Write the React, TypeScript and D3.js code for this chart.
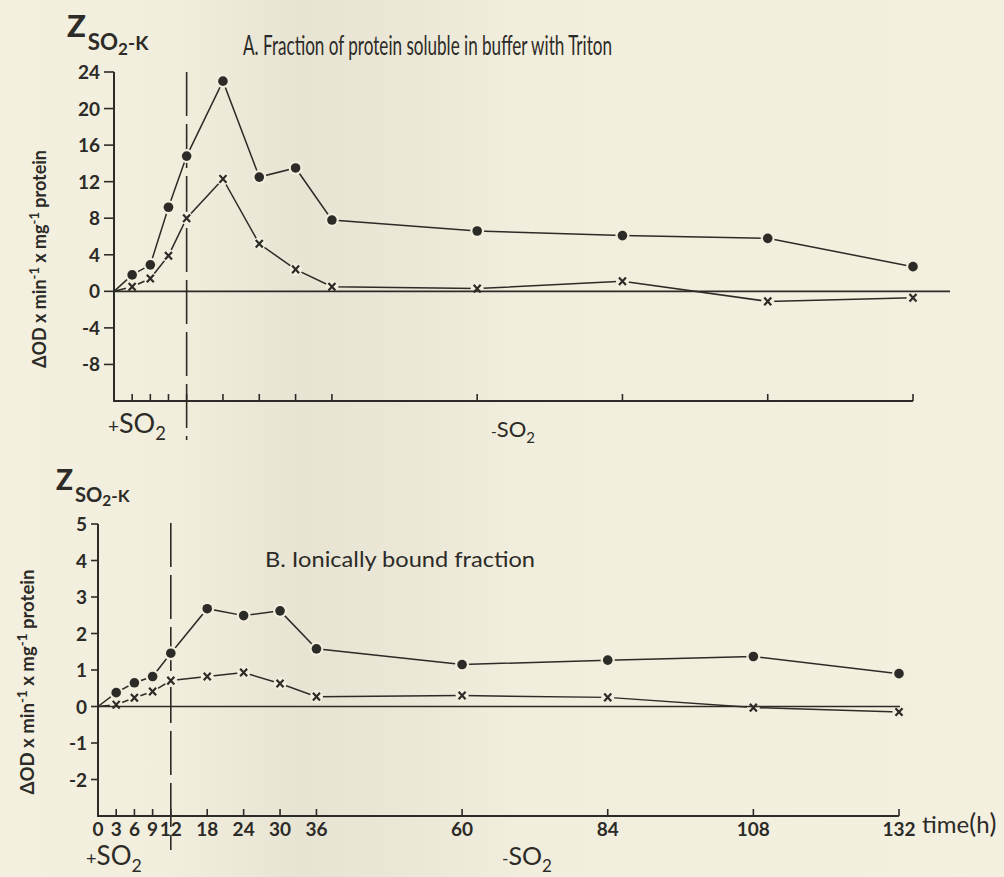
import React from 'react';
import * as d3 from 'd3';

// time points (h) and the values
const hours = [0, 3, 6, 9, 12, 18, 24, 30, 36, 60, 84, 108, 132];
const tickHours = [3, 6, 9, 12, 18, 24, 30, 36, 60, 84, 108, 132];
const xTickLabels = ['0', '3', '6', '9', '12', '18', '24', '30', '36', '60', '84', '108', '132'];

// A. fraction soluble in buffer with Triton
const tritonDots = [0, 1.8, 2.9, 9.2, 14.8, 23.0, 12.5, 13.5, 7.8, 6.6, 6.1, 5.8, 2.7];
const tritonCrosses = [0, 0.5, 1.4, 3.9, 8.0, 12.3, 5.2, 2.4, 0.5, 0.3, 1.1, -1.1, -0.7];

// B. ionically bound fraction
const ionicDots = [0, 0.38, 0.65, 0.82, 1.46, 2.68, 2.49, 2.62, 1.58, 1.15, 1.27, 1.37, 0.9];
const ionicCrosses = [0, 0.05, 0.24, 0.41, 0.71, 0.82, 0.93, 0.63, 0.27, 0.3, 0.25, -0.03, -0.15];

const yTicksA = [24, 20, 16, 12, 8, 4, 0, -4, -8];
const yTicksB = [5, 4, 3, 2, 1, 0, -1, -2];

const INK = '#2c2b27';
const PAPER = '#f2eedd';
const FONT = "Lato, 'DejaVu Sans', sans-serif";

type PanelProps = {
  x: d3.ScaleLinear<number, number>;
  y: d3.ScaleLinear<number, number>;
  yTicks: number[];
  dots: number[];
  crosses: number[];
  tickLen: number;
  zeroEnd: number;
  dashTop: number;
  dashBottom: number;
  showXLabels: boolean;
};

function Panel({ x, y, yTicks, dots, crosses, tickLen, zeroEnd, dashTop, dashBottom, showXLabels }: PanelProps) {
  const [yMin, yMax] = y.domain();
  const line = d3.line<number>().x((_, i) => x(hours[i])).y(d => y(d));
  const marks = hours.map((h, i) => ({ h, i })).filter(d => d.h > 0);
  return (
    <g>
      {/* dashed line at end of SO2 exposure */}
      <line x1={x(12)} x2={x(12)} y1={dashTop} y2={dashBottom} stroke={INK} strokeWidth={1.6} strokeDasharray="44 8" />
      <path d={line(dots) || ''} fill="none" stroke={INK} strokeWidth={1.5} />
      <path d={line(crosses) || ''} fill="none" stroke={INK} strokeWidth={1.5} />
      {/* gaps around markers */}
      {marks.map(d => (
        <g key={'h' + d.i}>
          <circle cx={x(d.h)} cy={y(dots[d.i])} r={7} fill={PAPER} />
          <circle cx={x(d.h)} cy={y(crosses[d.i])} r={6.5} fill={PAPER} />
        </g>
      ))}
      {/* zero line */}
      <line x1={x(0)} x2={zeroEnd} y1={y(0)} y2={y(0)} stroke={INK} strokeWidth={1.6} />
      {marks.map(d => (
        <g key={'m' + d.i}>
          <circle cx={x(d.h)} cy={y(dots[d.i])} r={4.8} fill={INK} />
          <path
            transform={`translate(${x(d.h)},${y(crosses[d.i])})`}
            d="M-3.5,-3.8L3.5,3.8M3.5,-3.8L-3.5,3.8"
            stroke={INK}
            strokeWidth={2.2}
          />
        </g>
      ))}
      {/* axes */}
      <line x1={x(0)} x2={x(0)} y1={y(yMax)} y2={y(yMin)} stroke={INK} strokeWidth={2} />
      <line x1={x(0) - 1} x2={x(132)} y1={y(yMin)} y2={y(yMin)} stroke={INK} strokeWidth={2} />
      {yTicks.map(t => (
        <g key={'yt' + t}>
          <line x1={x(0) - tickLen} x2={x(0)} y1={y(t)} y2={y(t)} stroke={INK} strokeWidth={1.6} />
          <text x={x(0) - tickLen - 4} y={y(t) + 7} textAnchor="end" fontSize={19} fontWeight={700} fill={INK} fontFamily={FONT}>
            {t}
          </text>
        </g>
      ))}
      {tickHours.map(h => (
        <line key={'xt' + h} x1={x(h)} x2={x(h)} y1={y(yMin)} y2={y(yMin) - 7} stroke={INK} strokeWidth={1.6} />
      ))}
      {showXLabels &&
        hours.map((h, i) => (
          <text key={'xl' + h} x={x(h)} y={y(yMin) + 20} textAnchor="middle" fontSize={19} fontWeight={700} fill={INK} fontFamily={FONT}>
            {xTickLabels[i]}
          </text>
        ))}
    </g>
  );
}

function ZLabel({ x, y, big }: { x: number; y: number; big: number }) {
  return (
    <text x={x} y={y} fill={INK} fontFamily={FONT} fontWeight={900}>
      <tspan fontSize={big}>Z</tspan>
      <tspan fontSize={big * 0.72} dy={big * 0.42} dx={2} fontWeight={700}>SO</tspan>
      <tspan fontSize={big * 0.55} dy={big * 0.16} fontWeight={700}>2</tspan>
      <tspan fontSize={big * 0.62} dy={-big * 0.16} fontWeight={700}>-K</tspan>
    </text>
  );
}

function YLabel({ cx, cy, len }: { cx: number; cy: number; len: number }) {
  return (
    <text transform={`translate(${cx},${cy}) rotate(-90)`} textAnchor="middle" fontSize={18} fontWeight={700} fill={INK} fontFamily={FONT} textLength={len} lengthAdjust="spacingAndGlyphs">
      ΔOD x min<tspan fontSize={13} dy={-7}>-1</tspan>
      <tspan dy={7}> x mg</tspan>
      <tspan fontSize={13} dy={-7}>-1</tspan>
      <tspan dy={7}> protein</tspan>
    </text>
  );
}

function SO2({ x, y, sign, size }: { x: number; y: number; sign: string; size: number }) {
  return (
    <text x={x} y={y} fill={INK} fontFamily={FONT} fontWeight={400}>
      <tspan fontSize={size * 0.7}>{sign}</tspan>
      <tspan fontSize={size}>SO</tspan>
      <tspan fontSize={size * 0.68} dy={size * 0.26}>2</tspan>
    </text>
  );
}

export default function App() {
  const xA = d3.scaleLinear().domain([0, 132]).range([114, 913]);
  const yA = d3.scaleLinear().domain([-12, 24]).range([401, 72]);
  const xB = d3.scaleLinear().domain([0, 132]).range([98, 899]);
  const yB = d3.scaleLinear().domain([-3, 5]).range([816, 524]);

  return (
    <svg width={1004} height={877} style={{ position: 'absolute', left: 0, top: 0 }}>
      <defs>
        <linearGradient id="paper" x1="0" x2="1" y1="0" y2="0">
          <stop offset="0" stopColor="#f4f0df" />
          <stop offset="0.17" stopColor="#f2eedd" />
          <stop offset="0.3" stopColor="#e8e4d4" />
          <stop offset="0.42" stopColor="#ece8d8" />
          <stop offset="0.52" stopColor="#f2eedd" />
          <stop offset="1" stopColor="#f4f0e0" />
        </linearGradient>
      </defs>
      <rect width={1004} height={877} fill="url(#paper)" />

      {/* panel A */}
      <ZLabel x={67} y={37} big={31} />
      <text x={243} y={55} fontSize={26} fill={INK} fontFamily={FONT} textLength={369} lengthAdjust="spacingAndGlyphs">
        A. Fraction of protein soluble in buffer with Triton
      </text>
      <YLabel cx={46} cy={259} len={218} />
      <Panel x={xA} y={yA} yTicks={yTicksA} dots={tritonDots} crosses={tritonCrosses} tickLen={10} zeroEnd={950} dashTop={72} dashBottom={440} showXLabels={false} />
      <SO2 x={108} y={433} sign="+" size={27} />
      <SO2 x={491} y={437} sign="-" size={22} />

      {/* panel B */}
      <ZLabel x={56} y={490} big={28} />
      <text x={265} y={567} fontSize={21} fill={INK} fontFamily={FONT} textLength={270} lengthAdjust="spacingAndGlyphs">
        B. Ionically bound fraction
      </text>
      <YLabel cx={34} cy={682} len={225} />
      <Panel x={xB} y={yB} yTicks={yTicksB} dots={ionicDots} crosses={ionicCrosses} tickLen={7} zeroEnd={900} dashTop={523} dashBottom={850} showXLabels={true} />
      <text x={922} y={833} fontSize={24} fill={INK} fontFamily={FONT}>
        time<tspan fontSize={26}>(</tspan>h<tspan fontSize={26}>)</tspan>
      </text>
      <SO2 x={86} y={865} sign="+" size={26} />
      <SO2 x={502} y={865} sign="-" size={25} />
    </svg>
  );
}
